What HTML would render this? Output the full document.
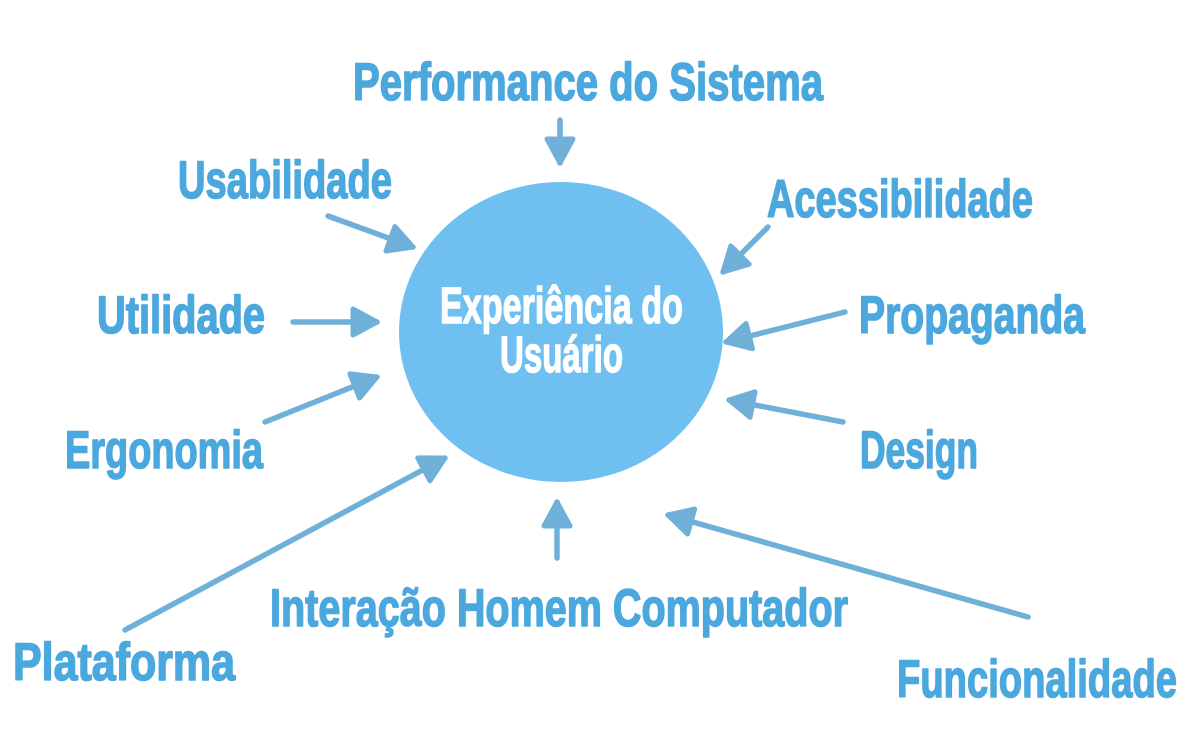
<!DOCTYPE html>
<html>
<head>
<meta charset="utf-8">
<style>
  html,body{margin:0;padding:0;background:#ffffff;}
  body{width:1188px;height:746px;overflow:hidden;}
  svg{display:block;}
  .t{font-family:"Liberation Sans Narrow","Liberation Sans",sans-serif;font-weight:bold;font-size:53px;fill:#4aa8de;stroke:#4aa8de;stroke-width:1.6;stroke-linejoin:round;}
  .c{font-family:"Liberation Sans Narrow","Liberation Sans",sans-serif;font-weight:bold;font-size:51px;fill:#ffffff;stroke:#ffffff;stroke-width:1.4;stroke-linejoin:round;}
  .a{stroke:#6fb0d9;stroke-width:5.5;fill:none;stroke-linecap:round;}
</style>
</head>
<body>
<svg width="1188" height="746" viewBox="0 0 1188 746" xmlns="http://www.w3.org/2000/svg">
  <defs>
    <marker id="ah" viewBox="0 0 32 32" refX="28" refY="16" markerWidth="32" markerHeight="32" markerUnits="userSpaceOnUse" orient="auto">
      <path d="M4,3 L28,16 L4,29 Z" fill="#70b0d8" stroke="#70b0d8" stroke-width="5" stroke-linejoin="round"/>
    </marker>
  </defs>

  <!-- central circle -->
  <ellipse cx="561" cy="332" rx="162" ry="150" fill="#6fc0f0"/>
  <text class="c" x="440" y="323" textLength="243" lengthAdjust="spacingAndGlyphs">Experiência do</text>
  <text class="c" x="500" y="372" textLength="123" lengthAdjust="spacingAndGlyphs">Usuário</text>

  <!-- arrows -->
  <line class="a" x1="560" y1="120" x2="560" y2="163" marker-end="url(#ah)"/>
  <line class="a" x1="328" y1="216" x2="413" y2="247" marker-end="url(#ah)"/>
  <line class="a" x1="293" y1="322" x2="377" y2="322" marker-end="url(#ah)"/>
  <line class="a" x1="265" y1="422" x2="377" y2="377" marker-end="url(#ah)"/>
  <line class="a" x1="125" y1="630" x2="445" y2="458" marker-end="url(#ah)"/>
  <line class="a" x1="557" y1="558" x2="557" y2="502" marker-end="url(#ah)"/>
  <line class="a" x1="1028" y1="617" x2="668" y2="515" marker-end="url(#ah)"/>
  <line class="a" x1="843" y1="422" x2="729" y2="400" marker-end="url(#ah)"/>
  <line class="a" x1="845" y1="312" x2="726" y2="342" marker-end="url(#ah)"/>
  <line class="a" x1="768" y1="227" x2="723" y2="272" marker-end="url(#ah)"/>

  <!-- labels -->
  <text class="t" x="353" y="100" textLength="470" lengthAdjust="spacingAndGlyphs">Performance do Sistema</text>
  <text class="t" x="178" y="198" textLength="214" lengthAdjust="spacingAndGlyphs">Usabilidade</text>
  <text class="t" x="767" y="217" textLength="266" lengthAdjust="spacingAndGlyphs">Acessibilidade</text>
  <text class="t" x="97" y="333" textLength="168" lengthAdjust="spacingAndGlyphs">Utilidade</text>
  <text class="t" x="859" y="333" textLength="226" lengthAdjust="spacingAndGlyphs">Propaganda</text>
  <text class="t" x="65" y="468" textLength="198" lengthAdjust="spacingAndGlyphs">Ergonomia</text>
  <text class="t" x="860" y="468" textLength="118" lengthAdjust="spacingAndGlyphs">Design</text>
  <text class="t" x="270" y="626" textLength="578" lengthAdjust="spacingAndGlyphs">Interação Homem Computador</text>
  <text class="t" x="13" y="680" textLength="222" lengthAdjust="spacingAndGlyphs">Plataforma</text>
  <text class="t" x="897" y="697" textLength="280" lengthAdjust="spacingAndGlyphs">Funcionalidade</text>
</svg>
</body>
</html>
